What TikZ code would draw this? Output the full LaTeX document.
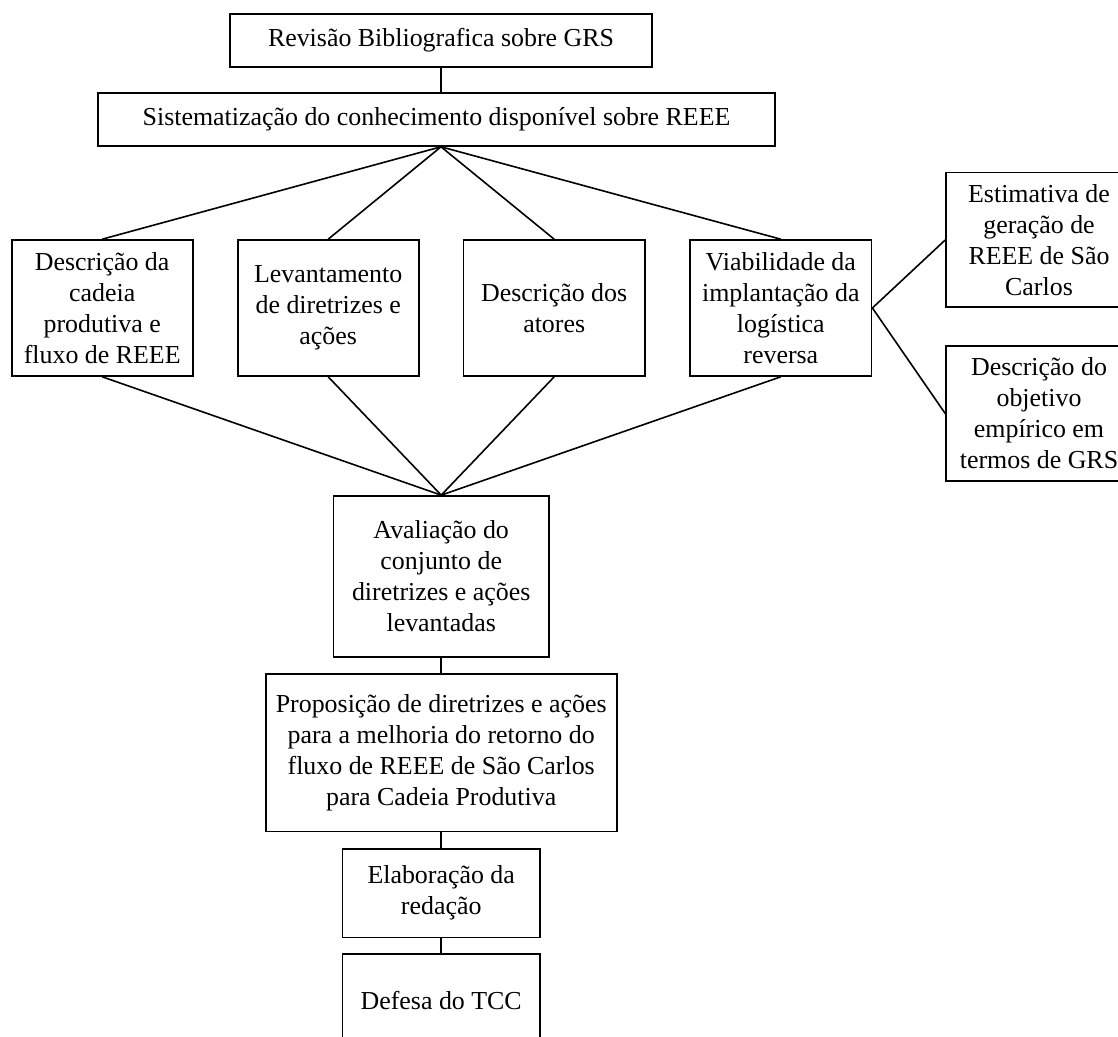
\documentclass[tikz,border=0pt]{standalone}
\usepackage{fontspec}
\setmainfont{Liberation Serif}
\begin{document}
\begin{tikzpicture}[x=0.5pt,y=-0.5pt,
  box/.style={draw, line width=0.8pt, align=center, inner sep=0pt,
    font=\fontsize{12.95}{15.5}\selectfont},
  link/.style={line width=0.8pt}]
\useasboundingbox (0,0) rectangle (1118,1037);
\node[box, minimum width=211pt, minimum height=26.5pt] (rev) at (441,40.5) {Revisão Bibliografica sobre GRS};
\node[box, minimum width=338.5pt, minimum height=26.5pt] (sis) at (436.5,119.5) {Sistematização do conhecimento disponível sobre REEE};
\node[box, minimum width=90.5pt, minimum height=68pt] (cad) at (102.2,308) {Descrição da\\cadeia\\produtiva e\\fluxo de REEE};
\node[box, minimum width=90.5pt, minimum height=68pt] (lev) at (328.2,308) {Levantamento\\de diretrizes e\\ações};
\node[box, minimum width=90.8pt, minimum height=68pt] (ato) at (554.2,308) {Descrição dos\\atores};
\node[box, minimum width=90.8pt, minimum height=68pt] (via) at (780.8,308) {Viabilidade da\\implantação da\\logística\\reversa};
\node[box, minimum width=93pt, minimum height=67.3pt] (est) at (1039,240) {Estimativa de\\geração de\\REEE de São\\Carlos};
\node[box, minimum width=93pt, minimum height=67.5pt] (obj) at (1039,413.5) {Descrição do\\objetivo\\empírico em\\termos de GRS};
\node[box, minimum width=107.85pt, minimum height=80.65pt] (ava) at (441.2,576.6) {Avaliação do\\conjunto de\\diretrizes e ações\\levantadas};
\node[box, minimum width=175.5pt, minimum height=78.85pt] (pro) at (441.2,752.8) {Proposição de diretrizes e ações\\para a melhoria do retorno do\\fluxo de REEE de São Carlos\\para Cadeia Produtiva};
\node[box, minimum width=98.85pt, minimum height=44.15pt] (ela) at (441.2,893.2) {Elaboração da\\redação};
\node[box, minimum width=98.85pt, minimum height=46pt] (def) at (441.2,1000) {Defesa do TCC};
\coordinate (hub) at (rev.south |- sis.south);
\draw[link] (rev.south) -- (rev.south |- sis.north);
\foreach \n in {cad,lev,ato,via} {
  \draw[link] (hub) -- (\n.north);
  \draw[link] (\n.south) -- (ava.north);
}
\draw[link] (via.east) -- (est.west);
\draw[link] (via.east) -- (obj.west);
\draw[link] (ava.south) -- (pro.north);
\draw[link] (pro.south) -- (ela.north);
\draw[link] (ela.south) -- (def.north);
\end{tikzpicture}
\end{document}
